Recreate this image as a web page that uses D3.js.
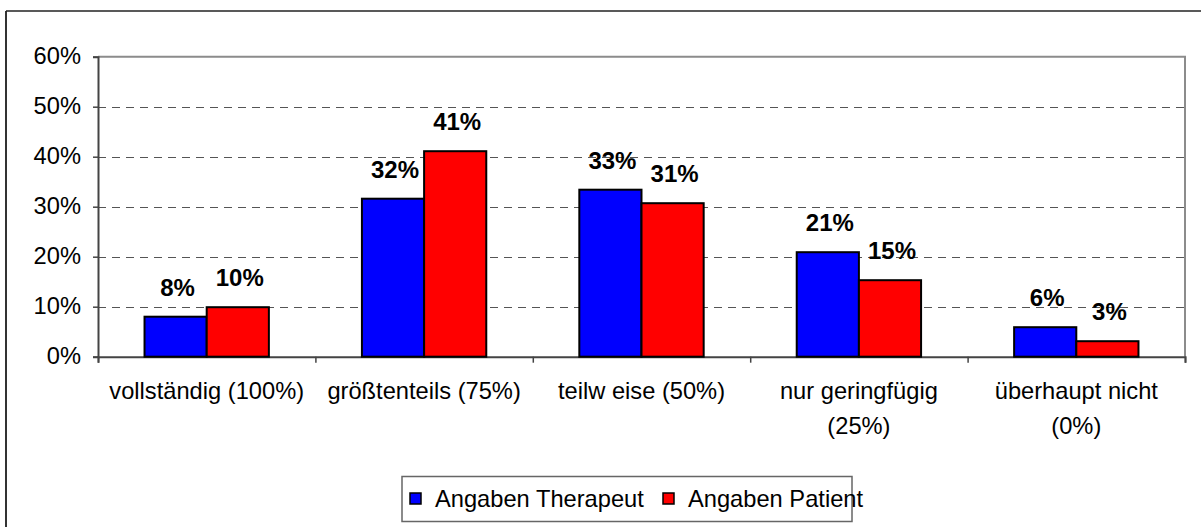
<!DOCTYPE html>
<html>
<head>
<meta charset="utf-8">
<script src="https://cdn.jsdelivr.net/npm/d3@7"></script>
<style>
  html, body { margin: 0; padding: 0; background: #fff; }
  svg { display: block; }
  text { font-family: "Liberation Sans", Arial, sans-serif; fill: #000; }
</style>
</head>
<body>
<svg id="chart" width="1201" height="527"></svg>
<script>
// Category labels (line breaks as drawn under the axis)
const categories = [
  ["vollständig (100%)"],
  ["größtenteils (75%)"],
  ["teilw eise (50%)"],
  ["nur geringfügig", "(25%)"],
  ["überhaupt nicht", "(0%)"]
];
const seriesNames = ["Angaben Therapeut", "Angaben Patient"];
const therapeutValues = [0.080, 0.316, 0.334, 0.209, 0.059];
const patientValues   = [0.099, 0.411, 0.307, 0.153, 0.031];
const yTicks = [0, 0.1, 0.2, 0.3, 0.4, 0.5, 0.6];
const seriesColors = ["#0000ff", "#ff0000"];

const svg = d3.select("#chart");
const W = 1201, H = 527;
const plot = { left: 98, right: 1185, top: 56.7, bottom: 356.7 };
const FS = 23, SX = 1.03;   // font size and horizontal text stretch

// Outer chart frame (only left and top edges fall inside the canvas)
svg.append("line").attr("x1", 6).attr("x2", 6).attr("y1", 11).attr("y2", H)
  .attr("stroke", "#333").attr("stroke-width", 2);
svg.append("line").attr("x1", 6).attr("x2", W).attr("y1", 11).attr("y2", 11)
  .attr("stroke", "#222").attr("stroke-width", 1.5);

const catIdx = categories.map((d, i) => i);
const x0 = d3.scaleBand().domain(catIdx).range([plot.left, plot.right]).padding(0);
const groupW = x0.bandwidth() * 0.572;
const x1 = d3.scaleBand().domain([0, 1])
  .range([(x0.bandwidth() - groupW) / 2, (x0.bandwidth() + groupW) / 2]).padding(0);
const y = d3.scaleLinear().domain([0, 0.6]).range([plot.bottom, plot.top]);

// text helper with horizontal stretch
function txt(parent, x, yy, s, anchor, weight, sx, fs) {
  const g = parent.append("g").attr("transform", `translate(${x},${yy}) scale(${sx || SX},1)`);
  return g.append("text").attr("text-anchor", anchor || "middle")
    .attr("font-size", fs || FS).attr("font-weight", weight || "normal").text(s);
}

// Gridlines (dashed) for inner ticks
svg.append("g").selectAll("line").data(yTicks.filter(t => t > 0 && t < 0.6)).join("line")
  .attr("x1", plot.left).attr("x2", plot.right)
  .attr("y1", d => Math.round(y(d)) + 0.5).attr("y2", d => Math.round(y(d)) + 0.5)
  .attr("stroke", "#555").attr("stroke-width", 1).attr("stroke-dasharray", "8,6");

// Plot area border top/right (grey)
svg.append("path")
  .attr("d", `M${plot.left},${y(0.6)} H${plot.right} V${plot.bottom}`)
  .attr("fill", "none").attr("stroke", "#8c8c8c").attr("stroke-width", 2);

// Y axis
const yAxis = d3.axisLeft(y).tickValues(yTicks).tickSize(5).tickFormat("");
const gy = svg.append("g").attr("transform", `translate(${plot.left},0)`).call(yAxis);
gy.select(".domain").attr("stroke", "#444").attr("stroke-width", 2);
gy.selectAll(".tick line").attr("stroke", "#444").attr("stroke-width", 1.5);
yTicks.forEach(t => {
  txt(svg, 81, y(t) - 1, d3.format(".0%")(t), "end").attr("dominant-baseline", "central");
});

// X axis with ticks at category boundaries
const boundaries = catIdx.map(i => x0(i)).concat([plot.right]);
const xb = d3.scaleLinear().domain([plot.left, plot.right]).range([plot.left, plot.right]);
const xAxis = d3.axisBottom(xb).tickValues(boundaries).tickSize(6).tickFormat("");
const gx = svg.append("g").attr("transform", `translate(0,${plot.bottom})`).call(xAxis);
gx.select(".domain").attr("stroke", "#444").attr("stroke-width", 2);
gx.selectAll(".tick line").attr("stroke", "#444").attr("stroke-width", 1.5);

// Bars
const allSeries = [therapeutValues, patientValues];
const groups = svg.append("g").selectAll("g").data(catIdx).join("g")
  .attr("transform", i => `translate(${x0(i)},0)`);
allSeries.forEach((vals, s) => {
  groups.append("rect")
    .attr("x", x1(s)).attr("width", x1.bandwidth())
    .attr("y", i => y(vals[i])).attr("height", i => y(0) - y(vals[i]))
    .attr("fill", seriesColors[s]).attr("stroke", "#000").attr("stroke-width", 2);
});

// Value labels
allSeries.forEach((vals, s) => {
  catIdx.forEach(i => {
    const cx = x0(i) + x1(s) + x1.bandwidth() / 2 + 2;
    txt(svg, cx, y(vals[i]) - 21, Math.round(vals[i] * 100) + "%", "middle", "bold", 1.0, 24);
  });
});

// Category labels
categories.forEach((lines, i) => {
  const cx = x0(i) + x0.bandwidth() / 2;
  lines.forEach((ln, k) => txt(svg, cx, 399 + k * 35, ln, "middle"));
});

// Legend
const lg = svg.append("g");
lg.append("rect").attr("x", 402).attr("y", 476.5).attr("width", 450).attr("height", 45)
  .attr("fill", "#fff").attr("stroke", "#666").attr("stroke-width", 1.5);
const legendX = [410, 663];
seriesNames.forEach((n, s) => {
  lg.append("rect").attr("x", legendX[s]).attr("y", 493).attr("width", 11).attr("height", 11)
    .attr("fill", seriesColors[s]).attr("stroke", "#000").attr("stroke-width", 1.5);
  txt(lg, legendX[s] + 25, 507, n, "start");
});
</script>
</body>
</html>
